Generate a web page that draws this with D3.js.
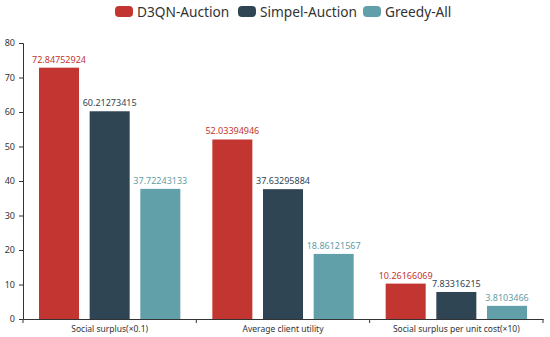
<!DOCTYPE html>
<html>
<head>
<meta charset="utf-8">
<script src="https://cdn.jsdelivr.net/npm/d3@7"></script>
<style>
	body { margin: 0; background: #fff; }
	text { font-family: "Noto Sans", "Open Sans", sans-serif; }
</style>
</head>
<body>
<svg id="chart"></svg>
<script>
var categories = ["Social surplus(×0.1)", "Average client utility", "Social surplus per unit cost(×10)"]
var seriesNames = ["D3QN-Auction", "Simpel-Auction", "Greedy-All"]
var d3qnValues = [72.84752924, 52.03394946, 10.26166069]
var simpelValues = [60.21273415, 37.63295884, 7.83316215]
var greedyValues = [37.72243133, 18.86121567, 3.8103466]
var yTicks = [0, 10, 20, 30, 40, 50, 60, 70, 80]
var colors = ["#c23531", "#2f4554", "#61a0a8"]

var labels = ["72.84752924", "60.21273415", "37.72243133",
	"52.03394946", "37.63295884", "18.86121567",
	"10.26166069", "7.83316215", "3.8103466"]

buildBars()

function buildBars() {
	var dim = { width: 550, height: 337, left: 23, right: 543, top: 43, bottom: 319 }

	var svg = d3.select('#chart')
		.attr('width', dim.width)
		.attr('height', dim.height)

	var allSeries = [d3qnValues, simpelValues, greedyValues]
	var data = []
	categories.forEach((c, i) => {
		allSeries.forEach((s, j) => {
			data.push({ cat: c, series: j, value: s[i], label: labels[i * 3 + j] })
		})
	})

	var x = d3.scaleBand()
		.domain(categories)
		.range([dim.left, dim.right])

	var inner = d3.scaleBand()
		.domain([0, 1, 2])
		.range([16, x.bandwidth() - 16])
		.paddingInner(0.21)

	var y = d3.scaleLinear()
		.domain([0, 80])
		.range([dim.bottom, dim.top])

	// y axis
	var yAxis = svg.append('g')
		.attr('transform', 'translate(' + dim.left + ',0)')
		.call(d3.axisLeft(y).tickValues(yTicks).tickSize(4).tickPadding(4))
	yAxis.select('.domain').attr('stroke', '#333')
	yAxis.selectAll('.tick line').attr('stroke', '#333')
	yAxis.selectAll('text').attr('fill', '#333').style('font-size', '9px')

	// bars
	svg.selectAll('rect.bar')
		.data(data)
		.enter()
		.append('rect')
			.attr('class', 'bar')
			.attr('x', d => x(d.cat) + inner(d.series))
			.attr('y', d => y(d.value))
			.attr('width', inner.bandwidth())
			.attr('height', d => y(0) - y(d.value))
			.attr('fill', d => colors[d.series])

	svg.selectAll('text.val')
		.data(data)
		.enter()
		.append('text')
			.attr('class', 'val')
			.attr('x', d => x(d.cat) + inner(d.series) + inner.bandwidth() / 2)
			.attr('y', d => y(d.value) - 5)
			.attr('text-anchor', 'middle')
			.attr('fill', d => colors[d.series])
			.style('font-size', '9px')
			.text(d => d.label)

	// x axis
	var xAxis = svg.append('g')
		.attr('transform', 'translate(0,' + dim.bottom + ')')
		.call(d3.axisBottom(x).tickSize(0).tickPadding(7))
	xAxis.select('.domain').attr('stroke', '#333')
	xAxis.selectAll('text').attr('fill', '#333').style('font-size', '8.5px')

	var bounds = [dim.left].concat(categories.map(c => x(c) + x.bandwidth()))
	svg.selectAll('line.xtick')
		.data(bounds)
		.enter()
		.append('line')
			.attr('class', 'xtick')
			.attr('x1', d => d).attr('x2', d => d)
			.attr('y1', dim.bottom).attr('y2', dim.bottom + 4)
			.attr('stroke', '#333')

	// legend
	var legendX = [115, 238, 363]
	var legend = svg.selectAll('g.legend')
		.data(seriesNames)
		.enter()
		.append('g')
			.attr('class', 'legend')
			.attr('transform', (d, i) => 'translate(' + legendX[i] + ',6)')
	legend.append('rect')
		.attr('width', 18).attr('height', 11)
		.attr('rx', 4)
		.attr('fill', (d, i) => colors[i])
	legend.append('text')
		.attr('x', 22).attr('y', 10.5)
		.attr('fill', '#333')
		.style('font-size', '13.7px')
		.text(d => d)
}
</script>
</body>
</html>
